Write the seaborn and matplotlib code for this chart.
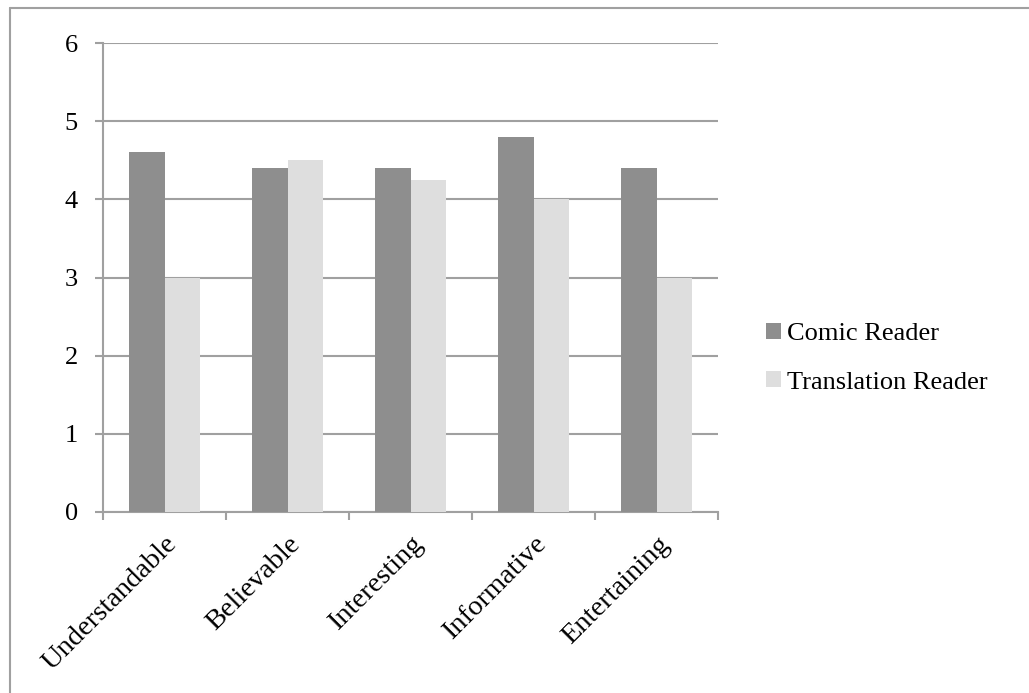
import pandas as pd
import seaborn as sns
import matplotlib.pyplot as plt
from matplotlib.lines import Line2D

# Data
categories = ['Understandable', 'Believable', 'Interesting', 'Informative', 'Entertaining']
comic_reader = [4.6, 4.4, 4.4, 4.8, 4.4]
translation_reader = [3.0, 4.5, 4.25, 4.0, 3.0]
series_names = ['Comic Reader', 'Translation Reader']

df = pd.DataFrame({
    'Category': categories * 2,
    'Score': comic_reader + translation_reader,
    'Reader': [series_names[0]] * len(categories) + [series_names[1]] * len(categories),
})

sns.set_theme(style="white")
plt.rcParams['font.family'] = ['Liberation Serif', 'DejaVu Serif']
plt.rcParams['text.color'] = 'black'
plt.rcParams['xtick.color'] = 'black'
plt.rcParams['ytick.color'] = 'black'

fig = plt.figure(figsize=(10.29, 6.93), dpi=100)
ax = fig.add_axes([103 / 1029, 1 - 512 / 693, (718 - 103) / 1029, (512 - 43) / 693])

sns.barplot(data=df, x='Category', y='Score', hue='Reader', order=categories,
            hue_order=series_names, palette=['#8e8e8e', '#dedede'],
            width=0.57, ax=ax, zorder=3, linewidth=0)

ax.set_ylim(0, 6)
ax.set_xlim(-0.5, len(categories) - 0.5)
ax.set_yticks(range(0, 7))
ax.yaxis.grid(True, color='#a0a0a0', linewidth=1.5, zorder=0)
ax.set_axisbelow(True)
ax.set_xlabel('')
ax.set_ylabel('')

for side in ['top', 'right']:
    ax.spines[side].set_visible(False)
for side in ['left', 'bottom']:
    ax.spines[side].set_color('#a0a0a0')
    ax.spines[side].set_linewidth(1.5)

# x ticks at category boundaries, labels at centres
ax.set_xticks([i - 0.5 for i in range(len(categories) + 1)], minor=False)
ax.set_xticklabels([''] * (len(categories) + 1))
ax.set_xticks(range(len(categories)), minor=True)
ax.set_xticklabels(categories, minor=True, rotation=45, ha='right',
                   rotation_mode='anchor', fontsize=20.5)
ax.tick_params(axis='x', which='major', direction='out', length=6, width=1.5,
               color='#a0a0a0', bottom=True)
ax.tick_params(axis='x', which='minor', length=0, pad=14)
ax.tick_params(axis='y', direction='out', length=6, width=1.5, color='#a0a0a0',
               left=True, labelsize=19, pad=12)

ax.legend(title=None, frameon=False, loc='center left', bbox_to_anchor=(1.04, 0.328),
          fontsize=19, handlelength=0.55, handleheight=0.55, handletextpad=0.25,
          labelspacing=1.0)

# outer frame of the chart area
fig.add_artist(Line2D([10 / 1029, 10 / 1029], [0, 1 - 8 / 693], color='#a0a0a0', lw=1.5))
fig.add_artist(Line2D([10 / 1029, 1], [1 - 8 / 693, 1 - 8 / 693], color='#a0a0a0', lw=1.5))

plt.savefig('out.png', dpi=100)
plt.close()
